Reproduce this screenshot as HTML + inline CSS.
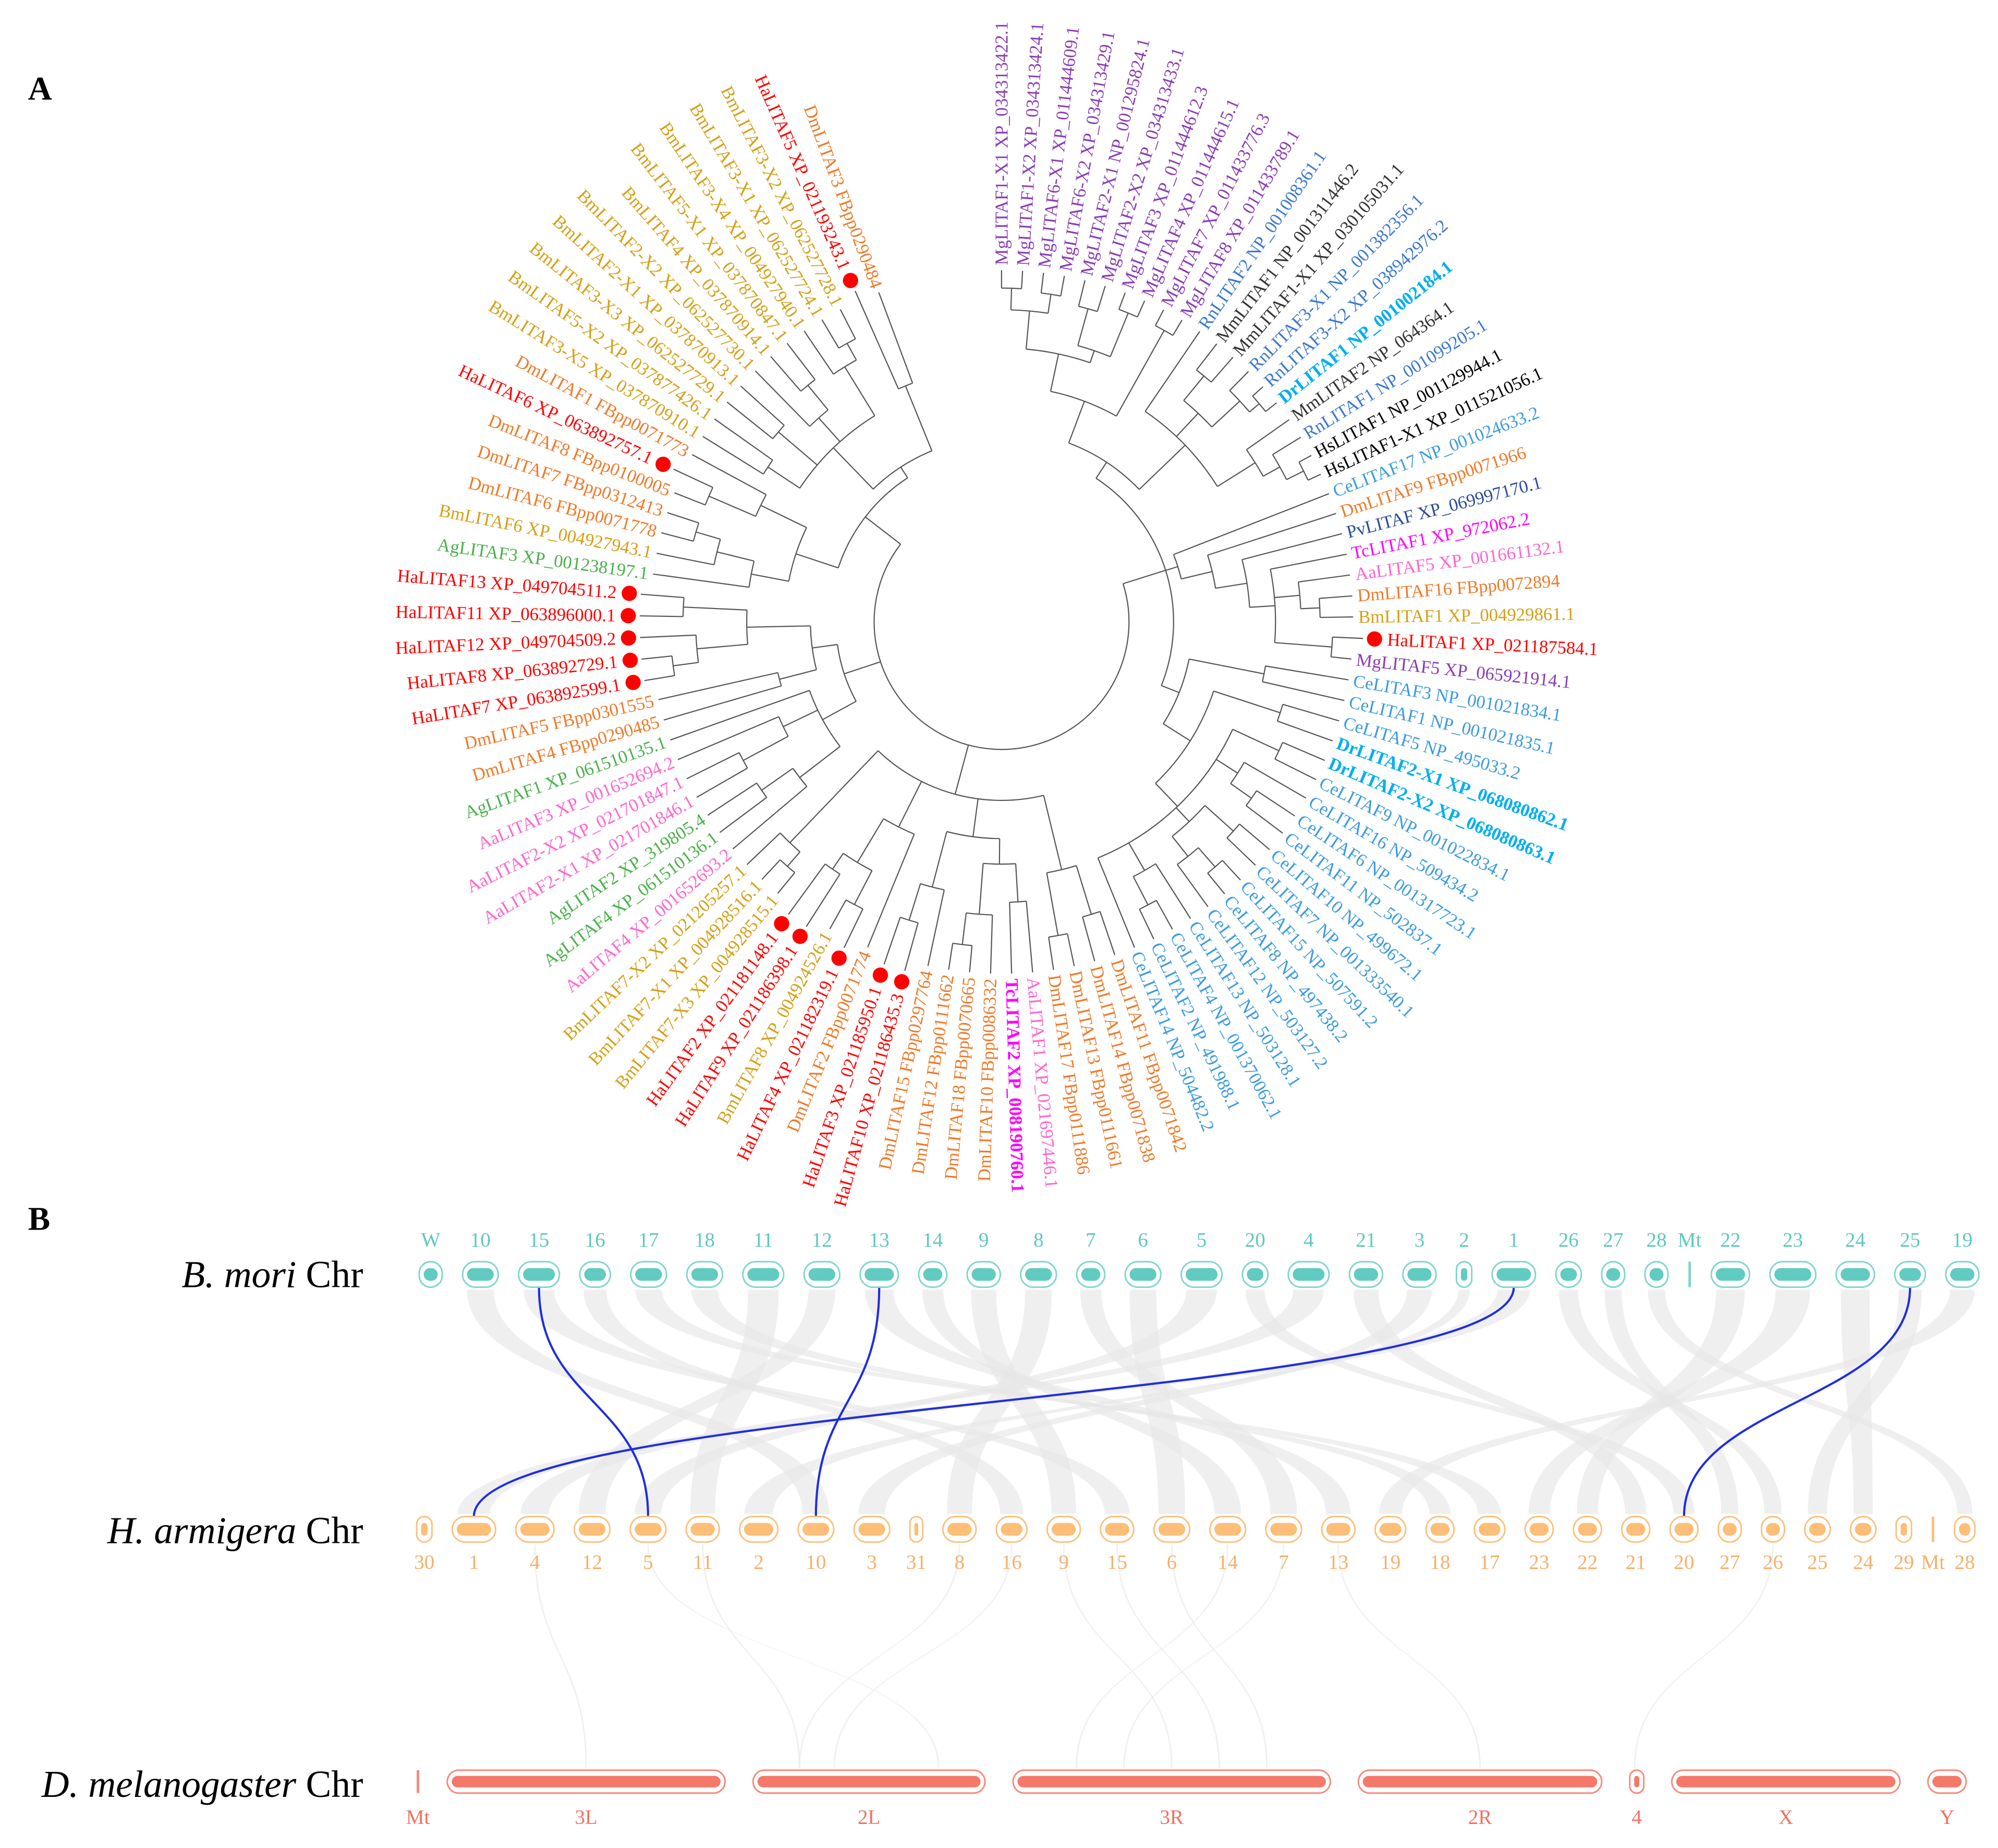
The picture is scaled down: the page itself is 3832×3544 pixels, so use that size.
<!DOCTYPE html>
<html><head><meta charset="utf-8"><style>
html,body{margin:0;padding:0;background:#fff;}
svg{display:block;}
text{font-family:"Liberation Serif",serif;}
</style></head><body>
<svg id="fig" xmlns="http://www.w3.org/2000/svg" width="3832" height="3544" viewBox="0 0 1568 1450">
<rect width="1568" height="1450" fill="#fff"/>
<text x="22" y="78" font-size="26" font-weight="bold">A</text>
<text x="22" y="965" font-size="26" font-weight="bold">B</text>
<g id="tree"></g>
<g id="ribbons"></g>
<g id="chroms"></g>
<text x="285" y="1010" font-size="30" text-anchor="end"><tspan font-style="italic">B. mori</tspan> Chr</text>
<text x="285" y="1211" font-size="30" text-anchor="end"><tspan font-style="italic">H. armigera</tspan> Chr</text>
<text x="285" y="1410" font-size="30" text-anchor="end"><tspan font-style="italic">D. melanogaster</tspan> Chr</text>
</svg>
<script>
const leaves = ["MgLITAF1-X1 XP_034313422.1","MgLITAF1-X2 XP_034313424.1","MgLITAF6-X1 XP_011444609.1","MgLITAF6-X2 XP_034313429.1","MgLITAF2-X1 NP_001295824.1","MgLITAF2-X2 XP_034313433.1","MgLITAF3 XP_011444612.3","MgLITAF4 XP_011444615.1","MgLITAF7 XP_011433776.3","MgLITAF8 XP_011433789.1",
"RnLITAF2 NP_001008361.1","MmLITAF1 NP_001311446.2","MmLITAF1-X1 XP_030105031.1","RnLITAF3-X1 NP_001382356.1","RnLITAF3-X2 XP_038942976.2","DrLITAF1 NP_001002184.1","MmLITAF2 NP_064364.1","RnLITAF1 NP_001099205.1","HsLITAF1 NP_001129944.1","HsLITAF1-X1 XP_011521056.1",
"CeLITAF17 NP_001024633.2","DmLITAF9 FBpp0071966","PvLITAF XP_069997170.1","TcLITAF1 XP_972062.2","AaLITAF5 XP_001661132.1","DmLITAF16 FBpp0072894","BmLITAF1 XP_004929861.1","HaLITAF1 XP_021187584.1","MgLITAF5 XP_065921914.1","CeLITAF3 NP_001021834.1",
"CeLITAF1 NP_001021835.1","CeLITAF5 NP_495033.2","DrLITAF2-X1 XP_068080862.1","DrLITAF2-X2 XP_068080863.1","CeLITAF9 NP_001022834.1","CeLITAF16 NP_509434.2","CeLITAF6 NP_001317723.1","CeLITAF11 NP_502837.1","CeLITAF10 NP_499672.1","CeLITAF7 NP_001333540.1",
"CeLITAF15 NP_507591.2","CeLITAF8 NP_497438.2","CeLITAF12 NP_503127.2","CeLITAF13 NP_503128.1","CeLITAF4 NP_001370062.1","CeLITAF2 NP_491988.1","CeLITAF14 NP_504482.2","DmLITAF11 FBpp0071842","DmLITAF14 FBpp0071838","DmLITAF13 FBpp0111661",
"DmLITAF17 FBpp0111886","AaLITAF1 XP_021697446.1","TcLITAF2 XP_008190760.1","DmLITAF10 FBpp0086332","DmLITAF18 FBpp0070665","DmLITAF12 FBpp0111662","DmLITAF15 FBpp0297764","HaLITAF10 XP_021186435.3","HaLITAF3 XP_021185950.1","DmLITAF2 FBpp0071774",
"HaLITAF4 XP_021182319.1","BmLITAF8 XP_004924526.1","HaLITAF9 XP_021186398.1","HaLITAF2 XP_021181148.1","BmLITAF7-X3 XP_004928515.1","BmLITAF7-X1 XP_004928516.1","BmLITAF7-X2 XP_021205257.1","AaLITAF4 XP_001652693.2","AgLITAF4 XP_061510136.1","AgLITAF2 XP_319805.4",
"AaLITAF2-X1 XP_021701846.1","AaLITAF2-X2 XP_021701847.1","AaLITAF3 XP_001652694.2","AgLITAF1 XP_061510135.1","DmLITAF4 FBpp0290485","DmLITAF5 FBpp0301555","HaLITAF7 XP_063892599.1","HaLITAF8 XP_063892729.1","HaLITAF12 XP_049704509.2","HaLITAF11 XP_063896000.1",
"HaLITAF13 XP_049704511.2","AgLITAF3 XP_001238197.1","BmLITAF6 XP_004927943.1","DmLITAF6 FBpp0071778","DmLITAF7 FBpp0312413","DmLITAF8 FBpp0100005","HaLITAF6 XP_063892757.1","DmLITAF1 FBpp0071773","BmLITAF3-X5 XP_037870910.1","BmLITAF5-X2 XP_037877426.1",
"BmLITAF3-X3 XP_062527729.1","BmLITAF2-X1 XP_037870913.1","BmLITAF2-X2 XP_062527730.1","BmLITAF4 XP_037870914.1","BmLITAF5-X1 XP_037870847.1","BmLITAF3-X4 XP_004927940.1","BmLITAF3-X1 XP_062527724.1","BmLITAF3-X2 XP_062527728.1","HaLITAF5 XP_021193243.1","DmLITAF3 FBpp0290484"];

const tree = [100,
  [135,
    [150,
      [185,[215,[245,[262,0,1],[260,2,3]],[225,[255,4,5],[240,[262,6,7]]]],[240,[262,8,9]]],
      [200,10,[225,[250,11,12],[255,13,[265,14,15]]],[235,16,[250,17,[265,18,19]]]]
    ],
    [145,20,[170,21,[195,22,[215,23,[235,24,[250,25,26]],[260,27,28]]]]],
    [150,[210,29,30],[175,[230,31,32],[200,[240,33,34],[220,35,[240,36,37]],[215,[245,38,39],[235,[255,40,41],42]],[225,43,[250,44,45]],46]]]
  ],
  [140,
    [200,[240,47,48],[250,49,50]],
    [170,[190,[220,51,52],[230,53,[255,54,55]]],[215,56,[245,57,58]]],
    [180,59,[220,[250,60,61],[235,62,63]]],
    [190,[240,[255,64,65],66]]
  ],
  [130,
    [160,[200,67,[230,68,69]],[190,[230,70,71],72],73],
    [150,[180,74,75],[200,[240,[260,76,77],78],[250,79,80]]]
  ],
  [135,
    [170,[200,81,[230,82,[250,83,84]]],[210,[250,85,86],87]],
    [145,[190,[220,88,89],[230,90,91],[215,92,[240,93,94]],[235,95,[250,96,97]]],[200,98,99]]
  ]
];

const speciesColor = {Mg:"#8a3db5",Rn:"#3a78d0",Mm:"#333333",Hs:"#000000",Dr:"#00aeef",Ce:"#3c9be0",Dm:"#ee7a2a",Pv:"#2b4c9b",Tc:"#ff00ff",Aa:"#ff66cc",Bm:"#d4a017",Ha:"#ff0000",Ag:"#4bb04b"};

const bmChr = ["W","10","15","16","17","18","11","12","13","14","9","8","7","6","5","20","4","21","3","2","1","26","27","28","Mt","22","23","24","25","19"];
const bmLen = [18,28,32,24,28,28,32,28,30,22,26,28,22,28,32,20,32,26,26,12,34,20,18,18,2,30,36,30,24,26];
const haChr = ["30","1","4","12","5","11","2","10","3","31","8","16","9","15","6","14","7","13","19","18","17","23","22","21","20","27","26","25","24","29","Mt","28"];
const haLen = [12,34,30,28,28,26,30,28,28,10,26,24,26,26,28,28,28,26,24,22,24,22,22,22,22,18,18,20,20,12,2,16];
const dmChr = ["Mt","3L","2L","3R","2R","4","X","Y"];
const dmLen = [2,218,182,249,191,11,179,30];
const blueLinks = [["15","5"],["13","10"],["1","1"],["25","20"]];
const haDmLinks = [["4","3L"],["5","2L"],["11","2L"],["9","3R"],["6","3R"],["7","3R"],["14","3R"],["13","2R"],["26","4"],["15","3R"],["16","2L"],["8","2L"]];

const NS="http://www.w3.org/2000/svg";
function mk(tag, attrs, parent){const e=document.createElementNS(NS,tag);for(const k in attrs)e.setAttribute(k,attrs[k]);parent.appendChild(e);return e;}

const CX=786, CY=488, STEP=3.43, A0=-90;
const gT=document.getElementById('tree');
const rad=d=>d*Math.PI/180;
const ang=i=>A0+i*STEP;
const isDot=i=>leaves[i].startsWith("Ha");
const pt=(r,a)=>[CX+r*Math.cos(rad(a)),CY+r*Math.sin(rad(a))];
function radial(r1,r2,a){const p=pt(r1,a),q=pt(r2,a);
  const l=mk('line',{x1:p[0],y1:p[1],x2:q[0],y2:q[1],stroke:"#555","stroke-width":0.9},gT);
  
  }
function arc(r,a1,a2){const p=pt(r,a1),q=pt(r,a2);const large=(a2-a1)>180?1:0;
  const e=mk('path',{d:`M${p[0]},${p[1]} A${r},${r} 0 ${large} 1 ${q[0]},${q[1]}`,fill:"none",stroke:"#555","stroke-width":0.9},gT);
  
  }
function draw(node,pr){
  if(typeof node==="number"){const a=ang(node);radial(pr,isDot(node)?284:276,a);return a;}
  const r=node[0];const as=node.slice(1).map(c=>draw(c,r));
  const mn=Math.min(...as),mx=Math.max(...as);
  if(as.length>1)arc(r,mn,mx);
  const m=(mn+mx)/2;
  if(pr!==null)radial(pr,r,m);
  return m;
}
draw(tree,null);
leaves.forEach((name,i)=>{
  const a=ang(i), sp=name.slice(0,2);
  const dot=isDot(i);
  if(dot){const d=pt(293,a);const c=mk('circle',{cx:d[0],cy:d[1],r:6,fill:"#ff0000"},gT);
    
    }
  const r=dot?303:280;const p=pt(r,a);
  const flip=a>90.01;
  const t=mk('text',{x:p[0],y:p[1],"font-size":14.2,fill:speciesColor[sp]||"#000","dominant-baseline":"central",
    "text-anchor":flip?"end":"start",transform:`rotate(${flip?a-180:a} ${p[0]} ${p[1]})`},gT);
  if(sp==="Dr"||name.startsWith("TcLITAF2"))t.setAttribute('font-weight','bold');
  t.textContent=name;
  
  
});

function layout(lens,start,gap){let x=start;return lens.map(w=>{const o={x0:x,x1:x+w,c:x+w/2,w:w};x+=w+gap;return o;});}
const bmPos=layout(bmLen,329,16), haPos=layout(haLen,327,15.9), dmPos=layout(dmLen,327,22);
const gC=document.getElementById('chroms'), gR=document.getElementById('ribbons');
function chrom(p,yc,h,stroke,fill,name){
  const g=mk('g',{},gC);
  
  
  const w=Math.max(p.w,2);
  if(p.w<=3){mk('rect',{x:p.c-1,y:yc-h/2,width:2,height:h,fill:stroke},g);return;}
  mk('rect',{x:p.x0,y:yc-h/2,width:w,height:h,rx:Math.min(h/2,w/2),fill:"#fff",stroke:stroke,"stroke-width":1.2},g);
  const iw=Math.max(w-7,2), ih=h*0.5;
  mk('rect',{x:p.c-iw/2,y:yc-ih/2,width:iw,height:ih,rx:Math.min(ih/2,iw/2),fill:fill},g);
}
function label(x,y,s,col,name){const t=mk('text',{x:x,y:y,"font-size":16,fill:col,"text-anchor":"middle"},gC);t.textContent=s;
  
  }
bmPos.forEach((p,i)=>{chrom(p,1000,20,"#7fd6cd","#62cbc1","bmori-chromosome");label(p.c,978,bmChr[i],"#5ec8bd","bmori-chr-label");});
haPos.forEach((p,i)=>{chrom(p,1200,20,"#fbc07e","#fdbe78","harmigera-chromosome");label(p.c,1231,haChr[i],"#f6b06a","harmigera-chr-label");});
dmPos.forEach((p,i)=>{chrom(p,1398,18,"#f58a7a","#f4796a","dmelanogaster-chromosome");label(p.c,1431,dmChr[i],"#f2705f","dmelanogaster-chr-label");});

function band(a,b,y1,y2,frac,color,op){
  const w1=a.w*frac,w2=b.w*frac,ym=(y1+y2)/2;
  const l1=a.c-w1/2,r1=a.c+w1/2,l2=b.c-w2/2,r2=b.c+w2/2;
  const e=mk('path',{d:`M${l1},${y1} C${l1},${ym} ${l2},${ym} ${l2},${y2} L${r2},${y2} C${r2},${ym} ${r1},${ym} ${r1},${y1} Z`,fill:color,"fill-opacity":op},gR);
  
  
}
bmChr.forEach((c,i)=>{const j=haChr.indexOf(c);if(j<0||c==="Mt")return;band(bmPos[i],haPos[j],1012,1188,0.75,"#e6e6e6",0.65);});
haDmLinks.forEach(([h,d])=>{const a=haPos[haChr.indexOf(h)],b=dmPos[dmChr.indexOf(d)];
  const off=(haChr.indexOf(h)%5-2)*0.15*b.w;const bb={c:b.c+off,w:3};
  band({c:a.c,w:3},bb,1212,1387,0.4,"#e2e2e2",0.5);});
blueLinks.forEach(([b,h])=>{const a=bmPos[bmChr.indexOf(b)],q=haPos[haChr.indexOf(h)];
  const e=mk('path',{d:`M${a.c},1010 C${a.c},1100 ${q.c},1100 ${q.c},1190`,fill:"none",stroke:"#1f2ee0","stroke-width":1.7},gR);
  
  });
</script>
</body></html>
